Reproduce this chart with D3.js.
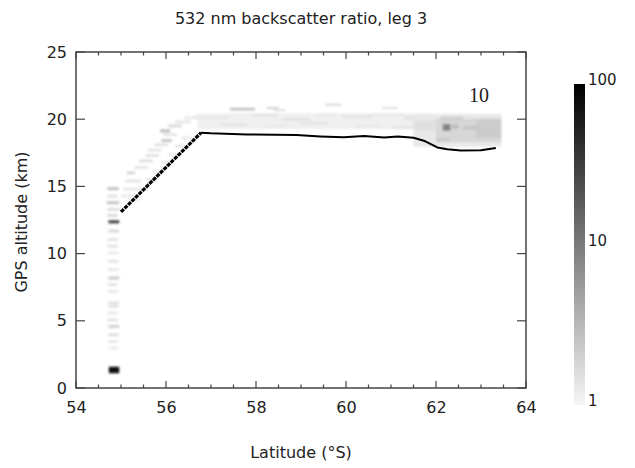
<!DOCTYPE html>
<html>
<head>
<meta charset="utf-8">
<script src="https://cdn.jsdelivr.net/npm/d3@7"></script>
<style>
  body { margin: 0; background: #fff; }
  text { font-family: "DejaVu Sans", sans-serif; fill: #222; }
</style>
</head>
<body>
<svg id="chart" width="635" height="468"></svg>
<script>
// ---- axis ticks ----
const latTicks = [54, 56, 58, 60, 62, 64];
const latMinor = d3.range(54, 64.01, 0.5);
const altTicks = [0, 5, 10, 15, 20, 25];
const ratioTicks = [1, 10, 100];

// ---- flight track: latitude (°S) and GPS altitude (km) ----
const trackLat = [55.00, 56.78, 57.00, 57.80, 58.90, 59.43, 59.95, 60.40, 60.85, 61.15, 61.50, 61.73, 62.03, 62.25, 62.55, 63.00, 63.33];
const trackAlt = [13.10, 19.00, 18.95, 18.86, 18.83, 18.72, 18.65, 18.75, 18.63, 18.72, 18.62, 18.40, 17.90, 17.76, 17.68, 17.69, 17.86];

// ---- backscatter ratio cells: [lat0, lat1, alt0, alt1, ratio] ----
// descent profile near 55°S
const profileCells = [
  [54.70, 54.95, 14.72, 14.95, 2.6],
  [54.70, 54.92, 14.17, 14.39, 1.5],
  [54.68, 54.96, 13.67, 13.90, 2.4],
  [54.70, 54.98, 13.18, 13.40, 1.6],
  [54.70, 54.92, 12.73, 12.95, 1.7],
  [54.72, 54.96, 12.25, 12.48, 30],
  [54.72, 54.95, 11.56, 11.80, 1.7],
  [54.70, 54.94, 10.93, 11.15, 1.4],
  [54.70, 54.93, 10.45, 10.66, 1.5],
  [54.70, 54.95, 9.95, 10.15, 1.3],
  [54.70, 54.94, 9.32, 9.54, 1.4],
  [54.72, 54.95, 8.70, 8.92, 1.3],
  [54.72, 54.96, 8.07, 8.30, 2.2],
  [54.70, 54.92, 7.58, 7.80, 1.4],
  [54.70, 54.93, 7.08, 7.30, 1.3],
  [54.72, 54.95, 6.21, 6.43, 1.5],
  [54.72, 54.95, 5.96, 6.18, 1.4],
  [54.70, 54.92, 5.46, 5.68, 1.3],
  [54.70, 54.93, 4.96, 5.18, 1.4],
  [54.72, 54.96, 4.47, 4.69, 2.0],
  [54.72, 54.95, 3.85, 4.07, 1.6],
  [54.72, 54.94, 3.35, 3.57, 1.3],
  [54.72, 54.94, 2.85, 3.07, 1.2],
  [54.73, 54.96, 1.10, 1.58, 80]
];
// climb from 55°S to 56.8°S
const ascentCells = [
  [55.00, 55.30, 14.20, 14.40, 1.3],
  [55.05, 55.35, 14.70, 14.90, 1.4],
  [55.10, 55.45, 15.30, 15.50, 1.5],
  [55.13, 55.31, 15.90, 16.10, 2.0],
  [55.30, 55.60, 16.30, 16.50, 1.4],
  [55.40, 55.70, 16.80, 17.00, 1.6],
  [55.55, 55.85, 17.20, 17.40, 1.5],
  [55.60, 55.90, 17.60, 17.80, 1.4],
  [55.75, 56.05, 18.00, 18.20, 1.5],
  [55.90, 56.13, 18.30, 18.52, 2.5],
  [55.95, 56.25, 18.75, 18.95, 1.4],
  [55.87, 56.09, 19.02, 19.24, 3.0],
  [56.05, 56.35, 19.40, 19.60, 1.8],
  [56.20, 56.55, 19.70, 19.90, 1.4],
  [56.40, 56.80, 20.00, 20.20, 1.3],
  [55.15, 55.40, 13.90, 14.10, 1.3],
  [55.35, 55.60, 14.70, 14.90, 1.3],
  [55.55, 55.80, 15.40, 15.60, 1.4],
  [55.70, 55.95, 16.00, 16.20, 1.3],
  [55.90, 56.15, 16.70, 16.90, 1.4],
  [56.05, 56.30, 17.30, 17.50, 1.3],
  [56.20, 56.45, 17.90, 18.10, 1.4],
  [56.35, 56.60, 18.50, 18.70, 1.3]
];
// level leg near 19 km
const plateauCells = [
  [56.70, 61.90, 19.25, 20.45, 1.12],
  [56.60, 57.40, 20.00, 20.25, 1.3],
  [57.42, 57.98, 20.65, 20.85, 2.6],
  [58.24, 58.50, 20.75, 20.92, 1.8],
  [58.40, 58.65, 20.60, 20.75, 1.6],
  [59.55, 59.90, 21.00, 21.15, 1.8],
  [60.80, 61.15, 20.75, 20.90, 1.5],
  [57.90, 58.50, 20.20, 20.40, 1.4],
  [58.60, 59.20, 19.90, 20.10, 1.5],
  [59.30, 59.80, 20.25, 20.40, 1.3],
  [59.90, 60.60, 20.10, 20.30, 1.4],
  [60.60, 61.30, 20.30, 20.45, 1.3],
  [61.30, 61.90, 20.00, 20.20, 1.5],
  [57.20, 57.80, 19.50, 19.70, 1.4],
  [58.20, 58.70, 19.40, 19.60, 1.3],
  [59.00, 59.60, 19.60, 19.80, 1.4],
  [60.20, 60.80, 19.40, 19.60, 1.3],
  [61.00, 61.70, 19.30, 19.50, 1.4]
];
// southern end of the leg
const southCells = [
  [61.50, 63.45, 17.95, 20.40, 1.3],
  [61.50, 62.00, 19.20, 19.90, 1.5],
  [62.00, 63.45, 18.30, 20.05, 1.8],
  [62.90, 63.45, 18.60, 20.00, 2.2],
  [62.10, 62.60, 19.80, 20.20, 2.0],
  [62.35, 62.50, 19.30, 19.60, 3.0],
  [62.60, 63.00, 19.20, 19.50, 2.4],
  [62.00, 62.30, 18.30, 18.60, 2.3],
  [62.15, 62.32, 19.15, 19.65, 9.0]
];

// ---- layout ----
const svg = d3.select("#chart");
const plot = { left: 76, right: 526, top: 52, bottom: 388 };

const x = d3.scaleLinear().domain([54, 64]).range([plot.left, plot.right]);
const y = d3.scaleLinear().domain([0, 25]).range([plot.bottom, plot.top]);
const color = d3.scaleLog().domain([1, 100]).range(["#f6f6f6", "#000000"]).clamp(true);

// ---- backscatter curtain ----
const cells = [].concat(plateauCells, southCells, ascentCells, profileCells);
const soft = svg.append("defs").append("filter").attr("id", "soft");
soft.append("feGaussianBlur").attr("stdDeviation", 0.8);

svg.append("g").attr("filter", "url(#soft)")
  .selectAll("rect").data(cells).join("rect")
  .attr("x", d => x(d[0]))
  .attr("width", d => x(d[1]) - x(d[0]))
  .attr("y", d => y(d[3]))
  .attr("height", d => y(d[2]) - y(d[3]))
  .attr("fill", d => color(d[4]));

// ---- flight track ----
const track = trackLat.map((lat, i) => [lat, trackAlt[i]]);
const line = d3.line().x(d => x(d[0])).y(d => y(d[1]));
svg.append("path").datum(track.slice(0, 2))
  .attr("d", line).attr("fill", "none")
  .attr("stroke", "#000").attr("stroke-width", 3.2)
  .attr("stroke-dasharray", "4 1");
svg.append("path").datum(track.slice(1))
  .attr("d", line).attr("fill", "none")
  .attr("stroke", "#000").attr("stroke-width", 2)
  .attr("stroke-linejoin", "round");

// ---- frame and ticks ----
const axisColor = "#444";
svg.append("rect")
  .attr("x", plot.left).attr("y", plot.top)
  .attr("width", plot.right - plot.left).attr("height", plot.bottom - plot.top)
  .attr("fill", "none").attr("stroke", axisColor).attr("stroke-width", 1.5);

const axisBottom = d3.axisBottom(x).tickValues(latTicks).tickSize(0).tickPadding(14).tickFormat(d3.format("d"));
const gx = svg.append("g").attr("transform", `translate(0,${plot.bottom})`).call(axisBottom);
gx.select(".domain").remove();
gx.selectAll("text").attr("font-size", 16).attr("font-family", "DejaVu Sans").attr("fill", "#222");

const axisLeft = d3.axisLeft(y).tickValues(altTicks).tickSize(0).tickPadding(9).tickFormat(d3.format("d"));
const gy = svg.append("g").attr("transform", `translate(${plot.left},0)`).call(axisLeft);
gy.select(".domain").remove();
gy.selectAll("text").attr("font-size", 16).attr("font-family", "DejaVu Sans").attr("fill", "#222");

const ticks = svg.append("g").attr("stroke", axisColor).attr("stroke-width", 1.2);
latMinor.forEach(v => {
  const major = latTicks.includes(v);
  const len = major ? 7 : 3.5;
  ticks.append("line").attr("x1", x(v)).attr("x2", x(v)).attr("y1", plot.bottom).attr("y2", plot.bottom - len);
  ticks.append("line").attr("x1", x(v)).attr("x2", x(v)).attr("y1", plot.top).attr("y2", plot.top + len);
});
altTicks.forEach(v => {
  ticks.append("line").attr("x1", plot.left).attr("x2", plot.left + 9).attr("y1", y(v)).attr("y2", y(v));
  ticks.append("line").attr("x1", plot.right).attr("x2", plot.right - 9).attr("y1", y(v)).attr("y2", y(v));
});

// ---- titles ----
svg.append("text").attr("x", 301).attr("y", 24).attr("text-anchor", "middle")
  .attr("font-size", 16).text("532 nm backscatter ratio, leg 3");
svg.append("text").attr("x", 301).attr("y", 458).attr("text-anchor", "middle")
  .attr("font-size", 16).text("Latitude (°S)");
svg.append("text").attr("transform", "translate(27,222) rotate(-90)").attr("text-anchor", "middle")
  .attr("font-size", 16).text("GPS altitude (km)");

svg.append("text").attr("x", 479).attr("y", 102).attr("text-anchor", "middle")
  .style("font-family", "'Liberation Serif', serif")
  .attr("font-size", 20).text("10");

// ---- colour bar ----
const cb = { x: 574, width: 11, top: 84, bottom: 405 };
const cy = d3.scaleLog().domain([1, 100]).range([cb.bottom, cb.top]);
const grad = svg.select("defs").append("linearGradient").attr("id", "cbGrad")
  .attr("x1", 0).attr("y1", 1).attr("x2", 0).attr("y2", 0);
[1, 1.5, 2, 3, 5, 7, 10, 15, 20, 30, 50, 70, 100].forEach(v => {
  grad.append("stop").attr("offset", (cb.bottom - cy(v)) / (cb.bottom - cb.top)).attr("stop-color", color(v));
});
svg.append("rect").attr("x", cb.x).attr("y", cb.top).attr("width", cb.width)
  .attr("height", cb.bottom - cb.top).attr("fill", "url(#cbGrad)");
svg.append("g").selectAll("text").data(ratioTicks).join("text")
  .attr("x", cb.x + cb.width + 3).attr("y", d => cy(d) + 1)
  .attr("font-size", 15).text(d => d);
</script>
</body>
</html>
